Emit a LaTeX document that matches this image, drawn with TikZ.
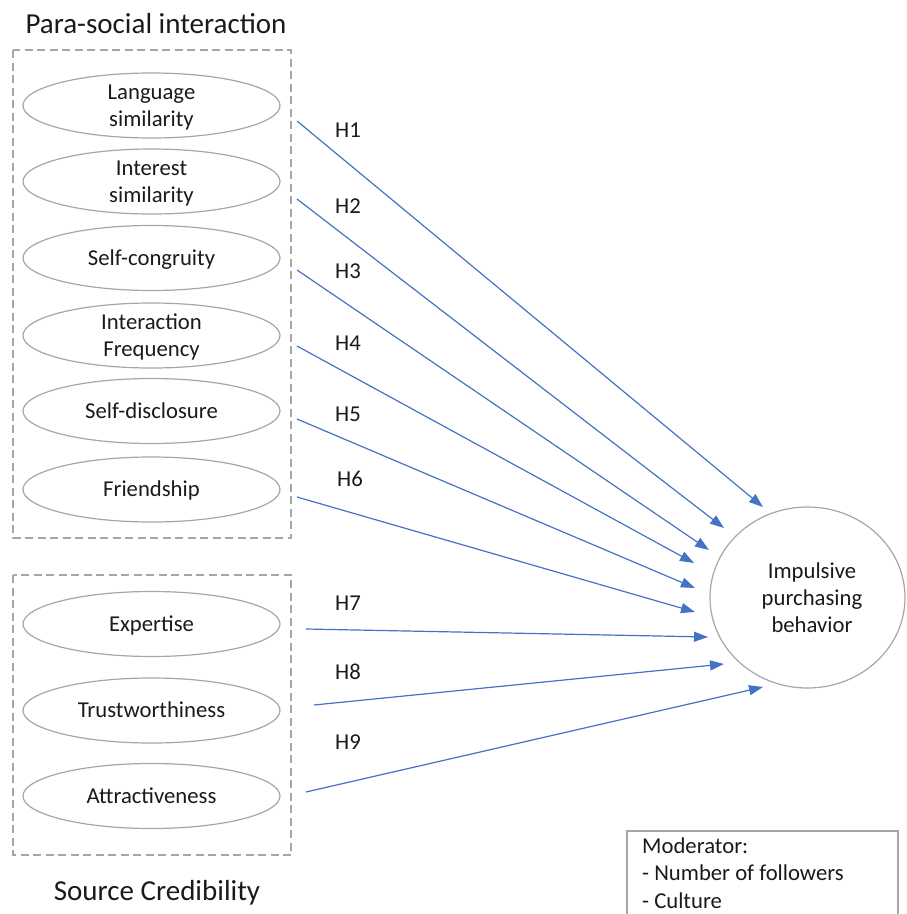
\documentclass[tikz,border=0pt]{standalone}
\usepackage{fontspec}
\setmainfont{Carlito}
\usetikzlibrary{arrows.meta,shapes.geometric}
\definecolor{linkblue}{HTML}{4472C4}
\definecolor{rimgray}{HTML}{A6A6A6}
\definecolor{inkdark}{HTML}{1A1A1A}
% invisible strut: 20pt above the baseline, 6pt below
\newcommand{\lstrut}{\rule[-6pt]{0pt}{26pt}}

\begin{document}
\begin{tikzpicture}[x=1pt,y=-1pt,
  oval/.style={ellipse, draw=rimgray, line width=1.2pt, minimum width=257pt, minimum height=65pt, inner sep=0pt},
  txt/.style={text=inkdark, inner sep=0pt, align=center, font=\fontsize{22.7}{27}\selectfont},
  head/.style={text=inkdark, inner sep=0pt, font=\fontsize{29}{34}\selectfont},
  group/.style={draw=rimgray, line width=1.1pt, dash pattern=on 8pt off 4.5pt},
  link/.style={draw=linkblue, line width=1.2pt, -{Triangle[length=14pt,width=10pt]}},
]
\useasboundingbox (0,0) rectangle (906,914);

% group titles
\node[head, anchor=base] (pst) at (156,33) {Para-social interaction};
\node[head, anchor=base] (sct) at (157,900) {Source Credibility};

% dashed group frames
\draw[group] (13,50) rectangle (291,538);
\draw[group] (13,575) rectangle (291,855);

% para-social interaction constructs
\node[oval] (ls) at (151.5,105.5) {};
\node[txt] (ls-t) at (ls.center) {\lstrut Language\\\lstrut similarity};
\node[oval] (is) at (151.5,181.5) {};
\node[txt] (is-t) at (is.center) {\lstrut Interest\\\lstrut similarity};
\node[oval] (sc) at (151.5,258) {};
\node[txt] (sc-t) at (sc.center) {\lstrut Self-congruity};
\node[oval] (if) at (151.5,335.5) {};
\node[txt] (if-t) at (if.center) {\lstrut Interaction\\\lstrut Frequency};
\node[oval] (sd) at (151.5,411) {};
\node[txt] (sd-t) at (sd.center) {\lstrut Self-disclosure};
\node[oval] (fr) at (151.5,489.5) {};
\node[txt] (fr-t) at (fr.center) {\lstrut Friendship};

% source credibility constructs
\node[oval] (ex) at (151.5,624) {};
\node[txt] (ex-t) at (ex.center) {\lstrut Expertise};
\node[oval] (tw) at (151.5,710.5) {};
\node[txt] (tw-t) at (tw.center) {\lstrut Trustworthiness};
\node[oval] (at) at (151.5,796) {};
\node[txt] (at-t) at (at.center) {\lstrut Attractiveness};

% outcome
\node[ellipse, draw=rimgray, line width=1.2pt, minimum width=195pt, minimum height=181pt, inner sep=0pt] (ipb) at (807.5,597.5) {};
\node[txt] (ipb-t) at (812,598.5) {\lstrut Impulsive\\\lstrut purchasing\\\lstrut behavior};

% moderator box (runs off the lower edge)
\draw[draw=rimgray, line width=1.1pt] (627,920) |- (898,831) -- (898,920);
\node[txt, align=left, anchor=north west, font=\fontsize{22.7}{27.5}\selectfont] (mod) at (642,833)
  {\lstrut Moderator:\\\lstrut - Number of followers\\\lstrut - Culture};

% hypothesis path end points
\coordinate (s1) at (297,121);  \coordinate (t1) at (763,507);
\coordinate (s2) at (297,199);  \coordinate (t2) at (724,528);
\coordinate (s3) at (297,270);  \coordinate (t3) at (709,550);
\coordinate (s4) at (297,346);  \coordinate (t4) at (694,563);
\coordinate (s5) at (297,419);  \coordinate (t5) at (695,588);
\coordinate (s6) at (297,497);  \coordinate (t6) at (695,612);
\coordinate (s7) at (306,629);  \coordinate (t7) at (708,637);
\coordinate (s8) at (314,705);  \coordinate (t8) at (724,664);
\coordinate (s9) at (306,792);  \coordinate (t9) at (763,687);

\foreach \i in {1,...,9} \draw[link] (s\i) -- (t\i);

% hypothesis labels
\node[txt] (h1) at (348,130) {\lstrut H1};
\node[txt] (h2) at (348,206) {\lstrut H2};
\node[txt] (h3) at (348,271) {\lstrut H3};
\node[txt] (h4) at (348,343) {\lstrut H4};
\node[txt] (h5) at (348,414) {\lstrut H5};
\node[txt] (h6) at (350,479) {\lstrut H6};
\node[txt] (h7) at (348,603) {\lstrut H7};
\node[txt] (h8) at (348,672) {\lstrut H8};
\node[txt] (h9) at (348,742) {\lstrut H9};
\end{tikzpicture}
\end{document}
